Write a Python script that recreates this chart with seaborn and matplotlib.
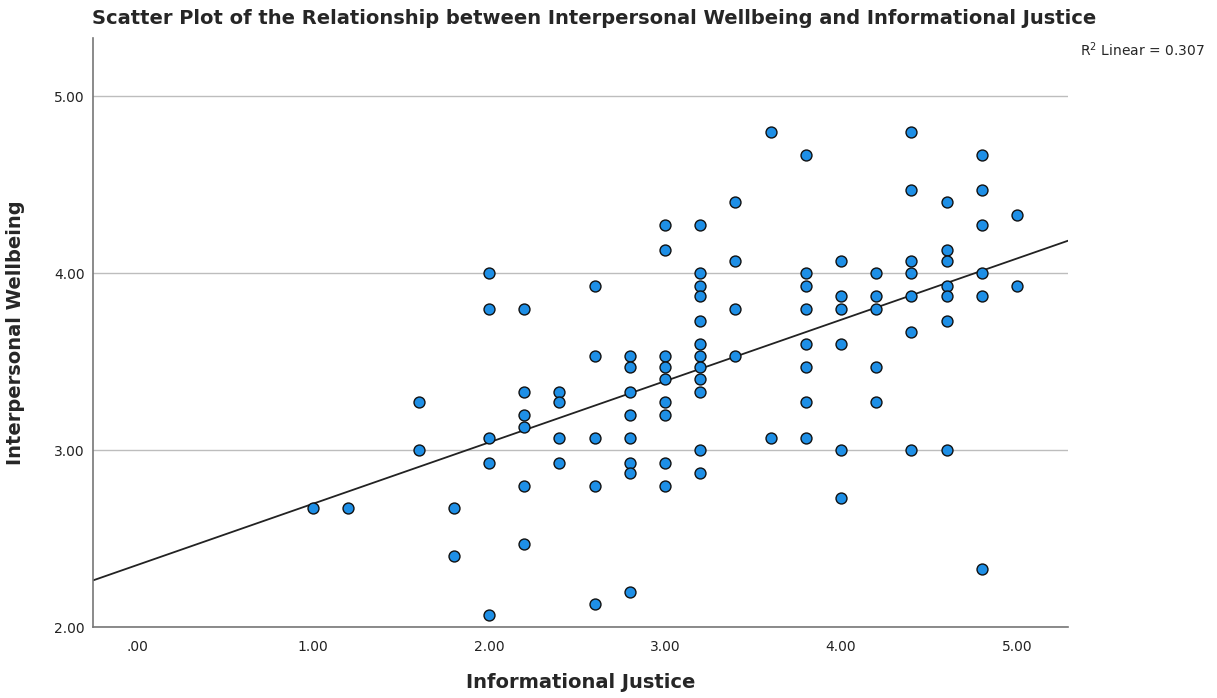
import numpy as np
import pandas as pd
import seaborn as sns
import matplotlib.pyplot as plt

# Informational Justice scores (x) and the Interpersonal Wellbeing values at each
justice_levels = [1.0, 1.2, 1.6, 1.8, 2.0, 2.2, 2.4, 2.6, 2.8, 3.0,
                  3.2, 3.4, 3.6, 3.8, 4.0, 4.2, 4.4, 4.6, 4.8, 5.0]
wellbeing_1_0 = [2.67]
wellbeing_1_2 = [2.67]
wellbeing_1_6 = [3.27, 3.00]
wellbeing_1_8 = [2.67, 2.40]
wellbeing_2_0 = [4.00, 3.80, 3.07, 2.93, 2.07]
wellbeing_2_2 = [3.80, 3.33, 3.20, 3.13, 2.80, 2.47]
wellbeing_2_4 = [3.33, 3.27, 3.07, 2.93]
wellbeing_2_6 = [3.93, 3.53, 3.07, 2.80, 2.13]
wellbeing_2_8 = [3.53, 3.47, 3.33, 3.20, 3.07, 2.93, 2.87, 2.20]
wellbeing_3_0 = [4.27, 4.13, 3.53, 3.47, 3.40, 3.27, 3.20, 2.93, 2.80]
wellbeing_3_2 = [4.27, 4.00, 3.93, 3.87, 3.73, 3.60, 3.53, 3.47, 3.40, 3.33, 3.00, 2.87]
wellbeing_3_4 = [4.40, 4.07, 3.80, 3.53]
wellbeing_3_6 = [4.80, 3.07]
wellbeing_3_8 = [4.67, 4.00, 3.93, 3.80, 3.60, 3.47, 3.27, 3.07]
wellbeing_4_0 = [4.07, 3.87, 3.80, 3.60, 3.00, 2.73]
wellbeing_4_2 = [4.00, 3.87, 3.80, 3.47, 3.27]
wellbeing_4_4 = [4.80, 4.47, 4.07, 4.00, 3.87, 3.67, 3.00]
wellbeing_4_6 = [4.40, 4.13, 4.07, 3.93, 3.87, 3.73, 3.00]
wellbeing_4_8 = [4.67, 4.47, 4.27, 4.00, 3.87, 2.33]
wellbeing_5_0 = [4.33, 3.93]

x_ticks = [0, 1, 2, 3, 4, 5]
y_ticks = [2, 3, 4, 5]
r2_text = 'R$^2$ Linear = 0.307'

columns = [wellbeing_1_0, wellbeing_1_2, wellbeing_1_6, wellbeing_1_8, wellbeing_2_0,
           wellbeing_2_2, wellbeing_2_4, wellbeing_2_6, wellbeing_2_8, wellbeing_3_0,
           wellbeing_3_2, wellbeing_3_4, wellbeing_3_6, wellbeing_3_8, wellbeing_4_0,
           wellbeing_4_2, wellbeing_4_4, wellbeing_4_6, wellbeing_4_8, wellbeing_5_0]
rows = [(x, y) for x, ys in zip(justice_levels, columns) for y in ys]
df = pd.DataFrame(rows, columns=['justice', 'wellbeing'])

sns.set_style('white')
plt.rcParams['font.family'] = ['DejaVu Sans']

fig = plt.figure(figsize=(12.17, 6.98), dpi=100)
ax = fig.add_axes([0.0764, 0.1017, 0.8012, 0.8439])
ax.set_xlim(-0.25, 5.29)
ax.set_ylim(2.0, 5.33)

# regression line across the full axis width
sns.regplot(data=df, x='justice', y='wellbeing', ax=ax, ci=None, truncate=False,
            scatter=False, line_kws={'color': '#222222', 'linewidth': 1.3})
sns.scatterplot(data=df, x='justice', y='wellbeing', ax=ax, s=62,
                color='#1e8fe6', edgecolor='#111111', linewidth=1.0, zorder=3)
ax.set_xlim(-0.25, 5.29)
ax.set_ylim(2.0, 5.33)

ax.set_xticks(x_ticks)
ax.set_xticklabels(['.00'] + [f'{v:.2f}' for v in x_ticks[1:]])
ax.set_yticks(y_ticks)
ax.set_yticklabels([f'{v:.2f}' for v in y_ticks])
ax.tick_params(axis='both', length=0, labelsize=10, colors='#222222')
ax.tick_params(axis='x', pad=9)
ax.tick_params(axis='y', pad=6)
ax.yaxis.grid(True, color='#bdbdbd', linewidth=1.0)
ax.set_axisbelow(True)

for side in ['top', 'right']:
    ax.spines[side].set_visible(False)
for side in ['left', 'bottom']:
    ax.spines[side].set_color('#777777')
    ax.spines[side].set_linewidth(1.2)

ax.set_xlabel('Informational Justice', fontsize=14, fontweight='bold')
ax.set_ylabel('Interpersonal Wellbeing', fontsize=14, fontweight='bold')
ax.xaxis.set_label_coords(0.5, -0.078)
ax.yaxis.set_label_coords(-0.070, 0.5)

fig.text(594 / 1217, 1 - 18 / 698, 'Scatter Plot of the Relationship between Interpersonal Wellbeing and Informational Justice',
         ha='center', va='center', fontsize=14, fontweight='bold')
fig.text(1205 / 1217, 1 - 50 / 698, r2_text, ha='right', va='center', fontsize=10)

plt.savefig('out.png', dpi=100)
